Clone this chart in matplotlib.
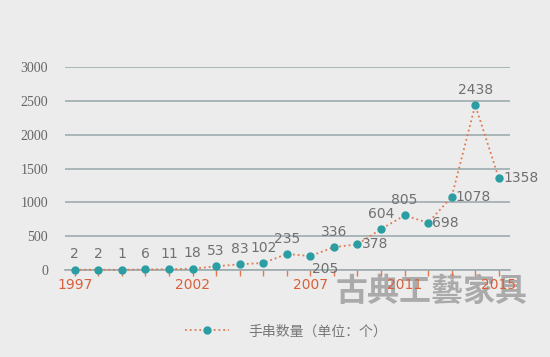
import numpy as np
import matplotlib
matplotlib.use("Agg")
import matplotlib.pyplot as plt

# data
years = list(range(1997, 2016))
counts = [2, 2, 1, 6, 11, 18, 53, 83, 102, 235, 205, 336, 378, 604, 805, 698, 1078, 2438, 1358]
shown_years = [1997, 2002, 2007, 2011, 2015]
y_ticks = [0, 500, 1000, 1500, 2000, 2500, 3000]

# where each data label sits relative to its point
label_side = {2007: "below", 2009: "right", 2012: "right", 2013: "right", 2015: "right"}

bg = "#ececec"
teal = "#2a9ea3"
orange = "#e07a50"
grid_c = "#9eacaf"

plt.rcParams['font.family'] = ['DejaVu Sans', 'Noto Sans CJK SC']

fig = plt.figure(figsize=(5.5, 3.57), dpi=100, facecolor=bg)

# watermark, kept behind the axes
fig.text(0.785, 0.182, "古典工藝家具", family=['Noto Sans CJK TC'], fontsize=23,
         fontweight="bold", color="#9a9a9a", alpha=0.8, ha="center", va="center",
         zorder=0)

ax = fig.add_axes([0.118, 0.244, 0.809, 0.568], facecolor=bg)
ax.patch.set_alpha(0)
ax.set_zorder(2)

x = np.arange(len(years))
ax.plot(x, counts, linestyle=":", color=orange, lw=1.3, marker="o",
        markersize=5, markerfacecolor=teal, markeredgecolor=teal,
        clip_on=False, zorder=3, label="手串数量（单位：个）")

for xi, yr, v in zip(x, years, counts):
    side = label_side.get(yr, "above")
    if side == "above":
        ax.annotate(str(v), (xi, v), xytext=(0, 6), textcoords="offset points",
                    ha="center", va="bottom", fontsize=10, color="#707070")
    elif side == "below":
        ax.annotate(str(v), (xi, v), xytext=(1, -4), textcoords="offset points",
                    ha="left", va="top", fontsize=10, color="#707070")
    else:
        ax.annotate(str(v), (xi, v), xytext=(3, 0), textcoords="offset points",
                    ha="left", va="center", fontsize=10, color="#707070")

ax.set_xlim(-0.42, 18.47)
ax.set_ylim(0, 3000)
ax.set_yticks(y_ticks)
ax.set_yticklabels([str(t) for t in y_ticks], family="Liberation Serif",
                   fontsize=10, color="#666666")
ax.yaxis.grid(True, color=grid_c, lw=1.2)
ax.set_axisbelow(True)
ax.tick_params(axis="y", length=0, pad=12)

ax.set_xticks(x)
ax.set_xticklabels([str(y) if y in shown_years else "" for y in years],
                   fontsize=10, color="#d9603a")
ax.tick_params(axis="x", length=4, width=1, color="#e07a50", pad=2)

for s in ["top", "right", "left"]:
    ax.spines[s].set_visible(False)
ax.spines["bottom"].set_color(grid_c)
ax.spines["bottom"].set_linewidth(1.2)

leg = fig.legend(loc="center", bbox_to_anchor=(0.52, 0.072), frameon=False,
                 fontsize=10, handlelength=3.2, handletextpad=1.4)
for t in leg.get_texts():
    t.set_color("#777777")
    t.set_family(['Noto Sans CJK SC'])

fig.savefig("out.png", dpi=100, facecolor=bg)
